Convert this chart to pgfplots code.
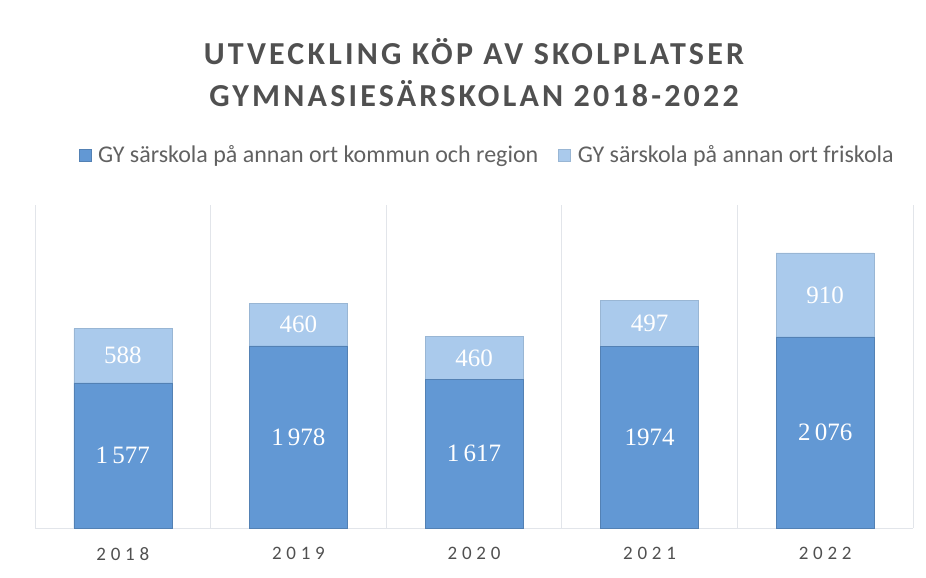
\documentclass[border=0pt]{standalone}
\usepackage{fontspec}
\setmainfont{Carlito}
\newfontfamily\numfont{Liberation Serif}
\usepackage{pgfplots}
\pgfplotsset{compat=1.18}
\usepackage{pgfplotstable}
\definecolor{darkbar}{RGB}{98,152,212}
\definecolor{lightbar}{RGB}{170,202,236}
\definecolor{txt}{RGB}{80,80,80}
\definecolor{gridc}{RGB}{226,229,234}

\pgfplotstableread{
x a alab b blab
0 1577 {1\,577} 588 588
1 1978 {1\,978} 460 460
2 1617 {1\,617} 460 460
3 1974 {1974} 497 497
4 2076 {2\,076} 910 910
}\data

\begin{document}
\begin{tikzpicture}[x=1pt,y=1pt]
\useasboundingbox (0,0) rectangle (926,-578);
\node[font=\fontsize{32}{38}\selectfont\bfseries\addfontfeatures{LetterSpace=10}, text=txt] at (474,-52) {UTVECKLING KÖP AV SKOLPLATSER};
\node[font=\fontsize{32}{38}\selectfont\bfseries\addfontfeatures{LetterSpace=10}, text=txt] at (474,-94) {GYMNASIESÄRSKOLAN 2018-2022};
\begin{axis}[
  at={(35pt,-528pt)}, anchor=south west,
  scale only axis, width=878pt, height=323pt,
  ymin=0, ymax=3507, xmin=-0.5, xmax=4.5,
  ybar stacked, bar width=98pt,
  axis y line=none,
  axis x line*=bottom,
  x axis line style={draw=gridc,-},
  xtick={0,1,2,3,4},
  xticklabels={2018,2019,2020,2021,2022},
  major tick length=0pt,
  minor xtick={-0.5,0.5,1.5,2.5,3.5,4.5},
  minor tick length=0pt,
  xminorgrids, minor grid style={draw=gridc, line width=0.8pt},
  xticklabel style={font=\fontsize{19}{22}\selectfont\addfontfeatures{LetterSpace=25}, text=txt, yshift=-16pt},
  point meta=explicit symbolic,
  nodes near coords={\pgfplotspointmeta},
  every node near coord/.append style={font=\numfont\fontsize{25}{29}\selectfont, text=white, anchor=center},
  legend style={at={(0.515,1.155)}, anchor=center, draw=none, fill=none,
    legend columns=2, font=\fontsize{24}{28}\selectfont, text=txt!90,
    /tikz/every even column/.append style={column sep=18pt}},
  legend image code/.code={\fill[#1] (0pt,-6pt) rectangle (12pt,6pt); \path (17pt,0pt);},
]
\addplot[fill=darkbar, draw=darkbar!85!black, line width=0.5pt]
  table[x=x, y=a, meta=alab] {\data};
\addlegendentry{GY särskola på annan ort kommun och region}
\addplot[fill=lightbar, draw=lightbar!90!black, line width=0.5pt]
  table[x=x, y=b, meta=blab] {\data};
\addlegendentry{GY särskola på annan ort friskola}
\end{axis}
\end{tikzpicture}
\end{document}
